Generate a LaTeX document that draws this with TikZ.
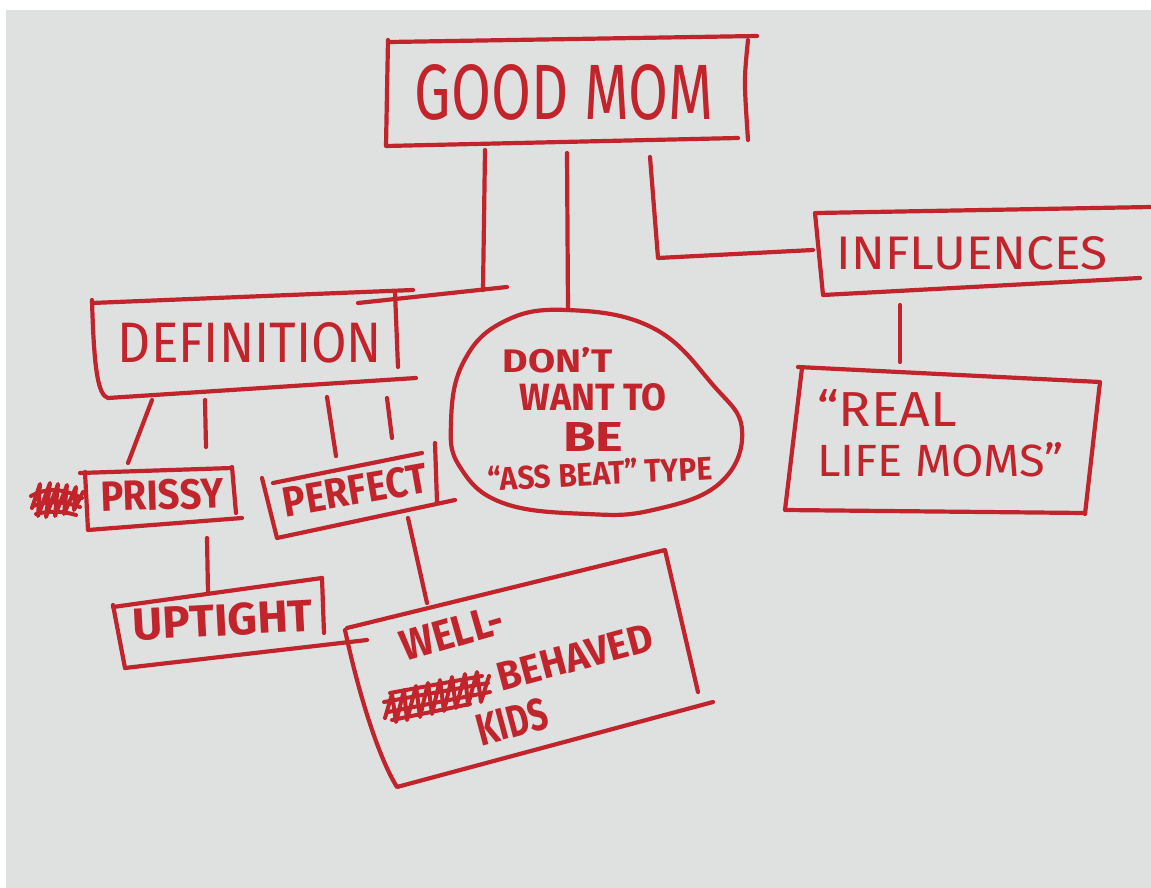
\documentclass[tikz,border=0pt]{standalone}
\usepackage{fontspec}
\setmainfont{Fira Sans}
\usepackage{graphicx}
\definecolor{ink}{RGB}{194,36,44}
\definecolor{paper}{RGB}{223,225,225}
% hand-lettered word: width, cap height, text
\newcommand{\hand}[3]{\resizebox{#1pt}{#2pt}{#3}}
\newcommand{\handb}[3]{\resizebox{#1pt}{#2pt}{\bfseries #3}}

\begin{document}
\begin{tikzpicture}[x=1pt,y=-1pt,
  pen/.style={draw=ink, line width=4.2pt, line cap=round, line join=round},
  wire/.style={pen},
  inktext/.style={text=ink, inner sep=0pt},
  scribble/.style={draw=ink, line width=4pt, line cap=round, line join=round}]

\useasboundingbox (0,0) rectangle (1151,888);
\fill[white] (0,0) rectangle (1151,888);
\fill[paper] (6,10) rectangle (1151,888);

% ---------- words ----------
\node[inktext] (good)    at (564,92)  {\hand{298}{55}{GOOD MOM}};
\node[inktext] (defn)    at (250,343) {\hand{264}{40}{DEFINITION}};
\node[inktext, rotate=2]  (prissy)  at (162,495) {\handb{123}{30}{PRISSY}};
\node[inktext, rotate=10] (perfect) at (355,490) {\handb{146}{30}{PERFECT}};
\node[inktext, rotate=3]  (uptight) at (223,620) {\handb{180}{32}{UPTIGHT}};
\node[inktext, rotate=16] (well)    at (452,633) {\handb{105}{30}{WELL-}};
\node[inktext, rotate=15] (behaved) at (575,657) {\handb{160}{28}{BEHAVED}};
\node[inktext, rotate=15] (kids)    at (512,722) {\handb{72}{32}{KIDS}};
\node[inktext] (dont)    at (558,360) {\handb{110}{25}{DON’T}};
\node[inktext] (want)    at (593,397) {\handb{147}{27}{WANT TO}};
\node[inktext] (be)      at (593,437) {\handb{60}{29}{BE}};
\node[inktext, rotate=3]  (type)    at (600,473) {\handb{225}{25}{“ASS BEAT” TYPE}};
\node[inktext] (infl)    at (972,253) {\hand{270}{33}{INFLUENCES}};
\node[inktext, anchor=west] (real) at (817,408) {\hand{140}{37}{“REAL}};
\node[inktext, anchor=west] (life) at (817,460) {\hand{246}{34}{LIFE MOMS”}};

% ---------- frames ----------
% GOOD MOM
\draw[pen] (390,42) -- (757,36);
\draw[pen] (388,40) -- (386,146) -- (738,138);
\draw[pen] (748,40) .. controls (744,80) .. (748,140);

% DEFINITION
\draw[pen] (92,303) -- (413,290);
\draw[pen] (92,300) .. controls (94,370) and (98,395) .. (108,398) -- (416,378);
\draw[pen] (395,292) -- (398,367);

% PRISSY
\draw[pen] (80,473) -- (232,468);
\draw[pen] (85,472) -- (88,530) -- (242,518);
\draw[pen] (232,467) -- (236,513);

% PERFECT
\draw[pen] (273,483) -- (422,453);
\draw[pen] (262,478) -- (277,538) -- (455,500);
\draw[pen] (435,443) -- (437,502);

% UPTIGHT
\draw[pen] (113,607) -- (322,578);
\draw[pen] (113,605) -- (125,668);
\draw[pen] (322,578) -- (324,633);

% WELL-BEHAVED KIDS
\draw[pen] (347,628) -- (665,550) -- (698,692);
\draw[pen] (345,630) .. controls (360,700) and (380,760) .. (397,787) -- (713,702);

% DON'T WANT TO BE
\draw[pen] plot[smooth cycle, tension=0.7] coordinates {
  (567,310) (653,328) (713,385) (742,430) (720,483) (653,510)
  (587,514) (503,503) (460,467) (451,423) (463,363) (503,322)};

% INFLUENCES
\draw[pen] (817,213) -- (1151,207);
\draw[pen] (815,213) -- (823,295) -- (1140,278);

% REAL LIFE MOMS
\draw[pen] (798,367) -- (1100,382) -- (1085,514);
\draw[pen] (802,368) -- (785,510) -- (1085,513);

% ---------- crossed-out letters ----------
\draw[scribble] (32,508) -- (40,484) -- (38,516) -- (50,483) -- (46,517)
  -- (58,484) -- (55,516) -- (67,485) -- (64,514) -- (76,487) -- (74,510) -- (83,492);
\draw[scribble] (31,496) .. controls (50,486) and (65,490) .. (82,498)
  (33,506) .. controls (52,500) and (66,502) .. (80,507)
  (36,514) .. controls (52,510) and (66,512) .. (76,515);
\draw[scribble] (385,718) -- (392,694) -- (396,722) -- (404,690) -- (407,720)
  -- (416,686) -- (420,717) -- (428,683) -- (432,714) -- (440,680)
  -- (444,711) -- (452,677) -- (456,708) -- (465,674) -- (468,705)
  -- (477,672) -- (481,702) -- (489,676);
\draw[scribble] (384,702) -- (488,683) (388,712) -- (490,692)
  (392,720) -- (470,704) (390,693) -- (482,676);

% ---------- connectors ----------
\coordinate (gmA) at (485,150);  \coordinate (dfA) at (483,290);
\coordinate (dfB) at (358,303);  \coordinate (dfC) at (507,287);
\coordinate (gmB) at (567,153);  \coordinate (ovT) at (568,310);
\coordinate (gmC) at (650,157);  \coordinate (bend) at (658,258);
\coordinate (inL) at (813,250);
\coordinate (inB) at (900,305);  \coordinate (rlT) at (900,362);
\coordinate (d1) at (152,400);   \coordinate (pr1) at (128,463);
\coordinate (d2) at (205,400);   \coordinate (pr2) at (206,447);
\coordinate (d3) at (327,397);   \coordinate (pf1) at (336,456);
\coordinate (d4) at (387,398);   \coordinate (pf2) at (392,438);
\coordinate (prB) at (207,538);  \coordinate (upT) at (208,593);
\coordinate (pfB) at (408,518);  \coordinate (wlT) at (427,603);
\coordinate (upL) at (125,668);  \coordinate (wlL) at (367,640);

\draw[wire] (gmA) -- (dfA);
\draw[wire] (dfB) -- (dfC);
\draw[wire] (gmB) -- (ovT);
\draw[wire] (gmC) -- (bend) -- (inL);
\draw[wire] (inB) -- (rlT);
\draw[wire] (d1) -- (pr1);
\draw[wire] (d2) -- (pr2);
\draw[wire] (d3) -- (pf1);
\draw[wire] (d4) -- (pf2);
\draw[wire] (prB) -- (upT);
\draw[wire] (pfB) -- (wlT);
\draw[wire] (upL) -- (wlL);
\end{tikzpicture}
\end{document}
